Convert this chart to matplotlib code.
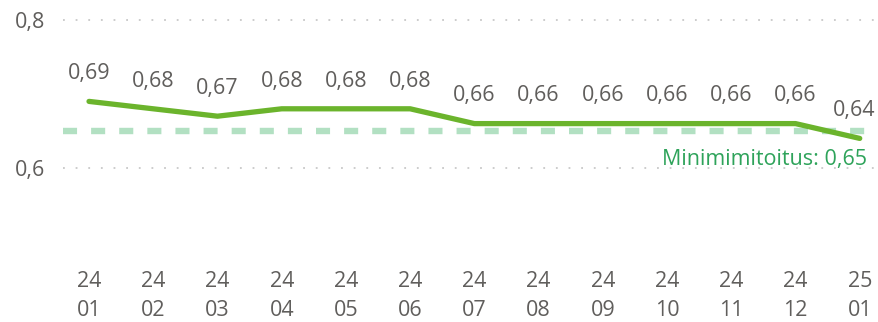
import matplotlib
matplotlib.use("Agg")
import matplotlib.pyplot as plt

# monthly values, year / month labels
years = ["24"] * 12 + ["25"]
months = ["01", "02", "03", "04", "05", "06", "07", "08", "09", "10", "11", "12", "01"]
values = [0.69, 0.68, 0.67, 0.68, 0.68, 0.68, 0.66, 0.66, 0.66, 0.66, 0.66, 0.66, 0.64]
min_level = 0.65
min_label = "Minimimitoitus: 0,65"

LINE = "#6BB42C"
REF = "#B2E0C2"
REF_TEXT = "#2EA35A"
TEXT = "#605E5C"
GRID = "#C8C8C8"
FS = 15.5

plt.rcParams["font.family"] = ["Open Sans", "DejaVu Sans"]

fig = plt.figure(figsize=(8.79, 3.22), dpi=100)
ax = fig.add_axes([63 / 879, 1 - 242 / 322, 1 - 63 / 879, (242 - 20) / 322])

x = list(range(len(values)))
ax.set_xlim(-0.405, 12.3)
ax.set_ylim(0.5, 0.8)

# dotted horizontal gridlines
for yv in (0.6, 0.8):
    ax.axhline(yv, color=GRID, lw=1.3, ls=(0, (1, 6)), zorder=1, clip_on=False)

# minimum level reference line
ax.axhline(min_level, color=REF, lw=4.6, ls=(0, (2.2, 2.2)), zorder=2)
ax.text(12.12, min_level - 0.039, min_label, color=REF_TEXT, fontsize=FS,
        ha="right", va="center")

ax.plot(x, values, color=LINE, lw=3.8, solid_capstyle="round",
        solid_joinstyle="round", zorder=3, clip_on=False)

# value labels; the last one nudged left so it stays inside the figure
for xi, v in zip(x, values):
    dx = -4 if xi == x[-1] else 0
    ax.annotate(("%.2f" % v).replace(".", ","), (xi, v), xytext=(dx, 20),
                textcoords="offset points", ha="center", va="center",
                fontsize=FS, color=TEXT)

ax.set_yticks([0.6, 0.8])
ax.set_yticklabels(["0,6", "0,8"])
ax.set_xticks(x)
ax.set_xticklabels(["%s\n%s" % (y, m) for y, m in zip(years, months)],
                   linespacing=1.5)
ax.tick_params(axis="both", length=0, labelsize=FS, colors=TEXT)
ax.tick_params(axis="y", pad=13)
ax.tick_params(axis="x", pad=21)

for s in ax.spines.values():
    s.set_visible(False)

fig.savefig("out.png", dpi=100)
